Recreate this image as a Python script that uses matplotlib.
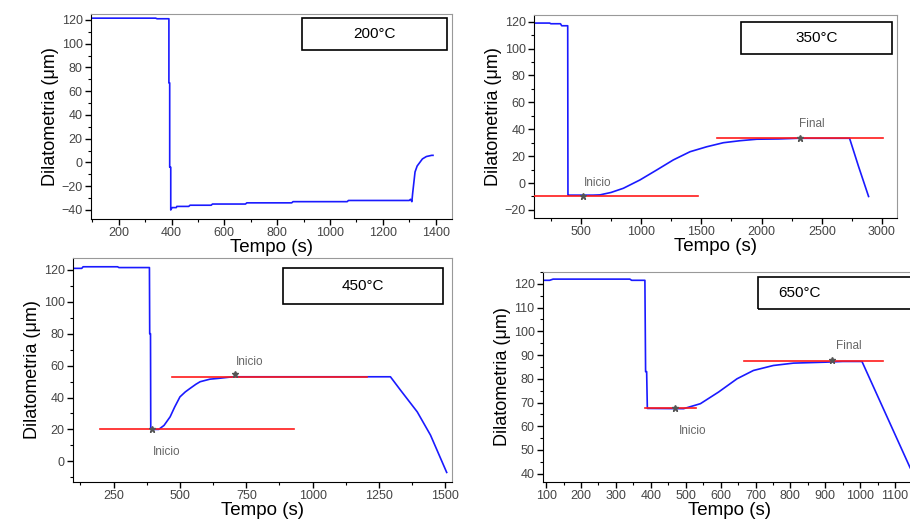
import matplotlib
matplotlib.use("Agg")
import matplotlib.pyplot as plt
from matplotlib.patches import Rectangle
from matplotlib.ticker import MultipleLocator

plt.rcParams['font.family'] = ['Liberation Sans', 'DejaVu Sans']

# ---- 200 C ----
t200 = [95, 340, 345, 390, 390, 393, 393, 397, 397, 402, 418, 420, 465, 470, 550, 555,
        680, 685, 855, 860, 1065, 1070, 1300, 1305, 1310, 1313, 1318, 1322, 1330, 1340,
        1350, 1365, 1385, 1390]
d200 = [121.5, 121.5, 121, 121, 67, 67, -4, -4, -40, -38, -38, -37, -37, -36, -36, -35,
        -35, -34, -34, -33, -33, -32, -32, -31, -33, -26, -16, -8, -3, 0,
        3, 5, 6, 6]

# ---- 350 C ----
t350 = [110, 240, 250, 330, 340, 390, 392, 395, 500, 600, 658, 750, 852, 990, 1129, 1267,
        1406, 1545, 1683, 1822, 1961, 2140, 2300, 2731, 2805, 2889]
d350 = [119, 119, 118.5, 118.5, 117, 117, -9, -9, -9, -9, -8.8, -7, -3.9, 2.3, 9.7, 17.2,
        23.3, 27, 30, 31.5, 32.6, 32.8, 33.3, 33.3, 12.5, -10]
lin350_t = [[110, 1475], [1628, 3010]]
lin350_d = [-10, 33.3]
mark350 = [(517, -9.5), (2320, 33.3)]
lab350 = [("Inicio", 640, 0), ("Final", 2418, 43.7)]

# ---- 450 C ----
t450 = [100, 130, 135, 265, 270, 385, 386, 389, 390, 395, 420, 440, 463, 480, 500, 520,
        538, 560, 576, 613, 645, 700, 1293, 1331, 1394, 1444, 1505]
d450 = [121, 121, 122, 122, 121.5, 121.5, 80, 80, 20, 20, 20, 22.5, 27.9, 34, 40.4, 43.5,
        45.7, 48.3, 49.9, 51.5, 52, 53, 53, 44.6, 31, 16.4, -7]
lin450_t = [[197, 928], [470, 1205]]
lin450_d = [20, 53]
mark450 = [(394, 20), (709, 54.5)]
lab450 = [("Inicio", 451, 5.9), ("Inicio", 762, 62.4)]

# ---- 650 C ----
t650 = [91, 110, 120, 340, 345, 383, 385, 388, 390, 395, 494, 542, 594, 647, 694, 751,
        809, 900, 950, 1005, 1143]
d650 = [121.5, 121.5, 122, 122, 121.5, 121.5, 83, 83, 67.5, 67.5, 67.4, 69.5, 74.4, 80,
        83.5, 85.6, 86.6, 87, 87.3, 87.3, 42.5]
lin650_t = [[382, 529], [668, 1065]]
lin650_d = [67.5, 87.5]
mark650 = [(470, 67.5), (919, 88)]
lab650 = [("Inicio", 520, 58.2), ("Final", 966, 93.7)]

W, H = 910, 520
fig = plt.figure(figsize=(9.1, 5.2), dpi=100)


def make_axes(left, right, top, bottom):
    return fig.add_axes([left / W, 1 - bottom / H, (right - left) / W, (bottom - top) / H])


def style(ax, xlim, ylim, xmaj, ymaj):
    ax.set_xlim(*xlim)
    ax.set_ylim(*ylim)
    ax.xaxis.set_major_locator(MultipleLocator(xmaj))
    ax.xaxis.set_minor_locator(MultipleLocator(xmaj / 2))
    ax.yaxis.set_major_locator(MultipleLocator(ymaj))
    ax.yaxis.set_minor_locator(MultipleLocator(ymaj / 2))
    ax.tick_params(which='major', direction='out', length=4, width=1, labelsize=9,
                   labelcolor='#444', pad=2)
    ax.tick_params(which='minor', direction='out', length=2.5, width=0.8)
    ax.tick_params(top=False, right=False)
    for s in ['top', 'right']:
        ax.spines[s].set_color('#999')
        ax.spines[s].set_linewidth(0.8)
    ax.set_xlabel('Tempo (s)', fontsize=13.5, labelpad=0)
    ax.set_ylabel('Dilatometria (\u03bcm)', fontsize=13, labelpad=2)


def tbox(ax, x0, x1, y0, y1, txt, tx=None):
    ax.add_patch(Rectangle((x0, y0), x1 - x0, y1 - y0, transform=ax.transAxes,
                           fill=False, edgecolor='black', linewidth=1.2, clip_on=False))
    if tx is None:
        tx = (x0 + x1) / 2
    ax.text(tx, (y0 + y1) / 2, txt, transform=ax.transAxes, ha='center', va='center',
            fontsize=11)


def extras(ax, lt, ld, marks, labs):
    for tt, dd in zip(lt, ld):
        ax.plot(tt, [dd, dd], color='#ff1a1a', linewidth=1.2, zorder=3)
    for mx, my in marks:
        ax.plot(mx, my, marker='*', color='#555', markersize=5, zorder=4)
    for txt, lx, ly in labs:
        ax.text(lx, ly, txt, ha='center', va='center', fontsize=8.5, color='#666')


blue = '#1a1aff'

ax1 = make_axes(91, 452, 14, 219)
ax1.plot(t200, d200, color=blue, linewidth=1.2)
style(ax1, (95, 1462), (-47.6, 125), 200, 20)
tbox(ax1, 0.584, 0.986, 0.824, 0.980, '200\u00b0C')

ax2 = make_axes(534, 897, 15, 218)
ax2.plot(t350, d350, color=blue, linewidth=1.2)
style(ax2, (110, 3125), (-26, 125), 500, 20)
extras(ax2, lin350_t, lin350_d, mark350, lab350)
tbox(ax2, 0.570, 0.986, 0.808, 0.966, '350\u00b0C')

ax3 = make_axes(73, 452, 258, 482)
ax3.plot(t450, d450, color=blue, linewidth=1.2)
style(ax3, (97, 1525), (-13, 127.5), 250, 20)
extras(ax3, lin450_t, lin450_d, mark450, lab450)
tbox(ax3, 0.554, 0.976, 0.795, 0.955, '450\u00b0C')

ax4 = make_axes(543, 915, 272, 482)
ax4.plot(t650, d650, color=blue, linewidth=1.2)
style(ax4, (91, 1157), (36.5, 125), 100, 10)
extras(ax4, lin650_t, lin650_d, mark650, lab650)
tbox(ax4, 0.578, 1.08, 0.824, 0.976, '650\u00b0C', tx=0.69)

fig.savefig('out.png', dpi=100)
